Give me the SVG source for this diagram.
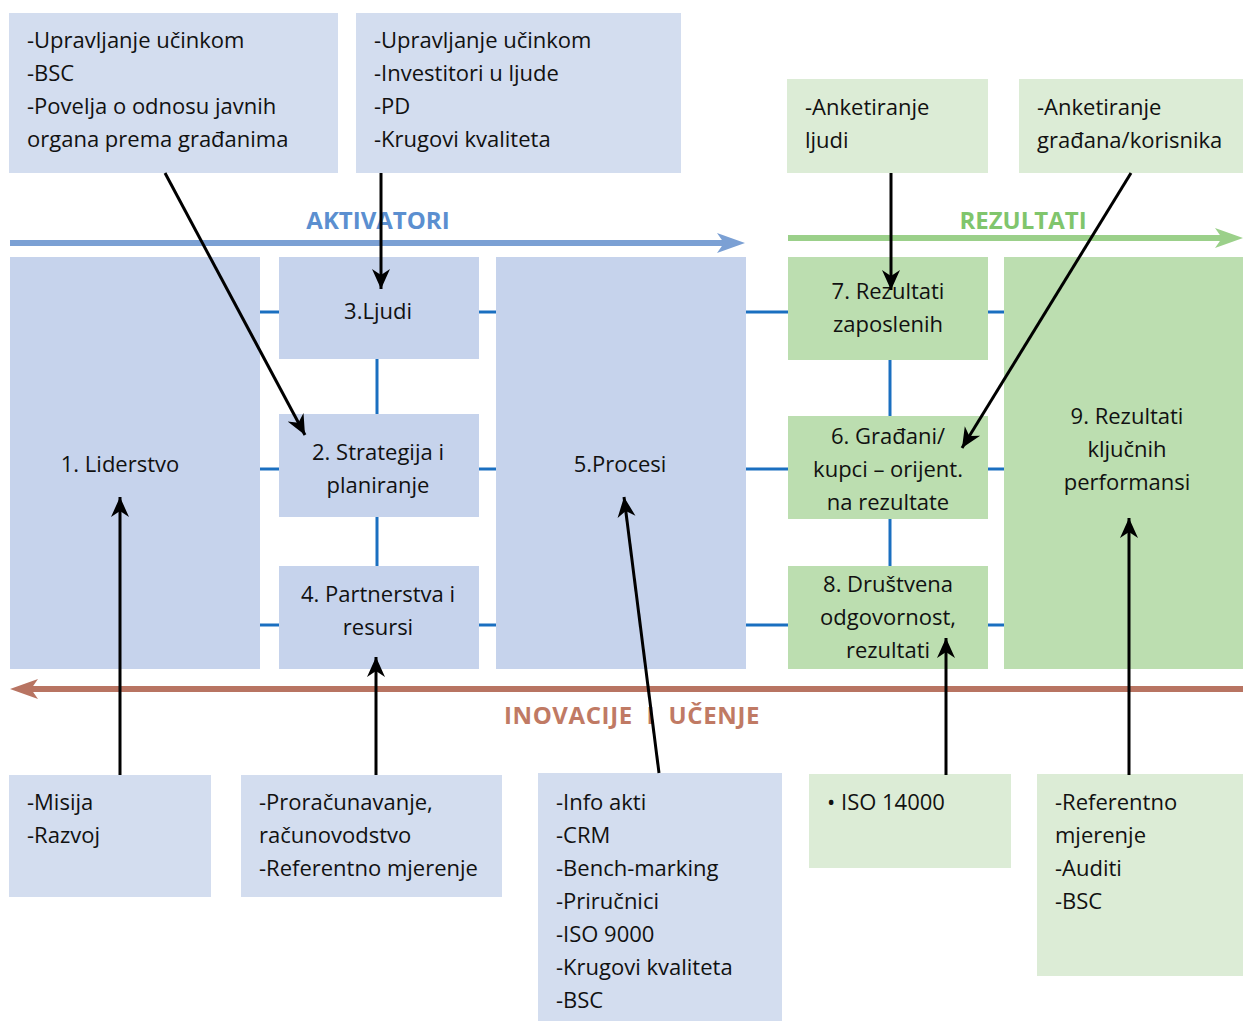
<svg xmlns="http://www.w3.org/2000/svg" width="1243" height="1021" viewBox="0 0 1243 1021">
<defs>
<style>
text{font-family:"Open Sans","Liberation Sans",sans-serif;font-size:22px;fill:#111}
.c{text-anchor:middle}
.lb{fill:#d3ddef}
.mb{fill:#c6d3ec}
.lg{fill:#dcecd6}
.mg{fill:#bcdeb0}
.bl{stroke:#1a6fc0;stroke-width:3;fill:none}
.ttl{font-weight:bold;font-size:24px}
</style>
<marker id="ah2" markerWidth="22" markerHeight="22" refX="20" refY="11" orient="auto" markerUnits="userSpaceOnUse">
<path d="M0,2 L20,11 L0,20 L6,11 Z" fill="#000"/>
</marker>
</defs>
<rect width="1243" height="1021" fill="#fff"/>

<g id="flow-arrows">
<line x1="10" y1="243" x2="725" y2="243" stroke="#7ba0d4" stroke-width="6"/>
<path d="M717,233 L745,243 L717,253 L724,243 Z" fill="#7ba0d4"/>
<line x1="788" y1="238" x2="1230" y2="238" stroke="#9bd08a" stroke-width="6"/>
<path d="M1215,228 L1243,238 L1215,248 L1222,238 Z" fill="#9bd08a"/>
<line x1="28" y1="689" x2="1243" y2="689" stroke="#b87462" stroke-width="6"/>
<path d="M38,679 L10,689 L38,699 L31,689 Z" fill="#b87462"/>
<text class="c ttl" x="378" y="229" style="fill:#5b8fd0">AKTIVATORI</text>
<text class="c ttl" x="1023" y="229" style="fill:#80c56c">REZULTATI</text>
<text class="c ttl" x="632" y="724" style="fill:#c07a64;letter-spacing:0.6px" xml:space="preserve">INOVACIJE  I  UČENJE</text>
</g>

<g id="grid-lines">
<line class="bl" x1="260" y1="312" x2="279" y2="312"/>
<line class="bl" x1="260" y1="469" x2="279" y2="469"/>
<line class="bl" x1="260" y1="625" x2="279" y2="625"/>
<line class="bl" x1="479" y1="312" x2="496" y2="312"/>
<line class="bl" x1="479" y1="469" x2="496" y2="469"/>
<line class="bl" x1="479" y1="625" x2="496" y2="625"/>
<line class="bl" x1="746" y1="312" x2="788" y2="312"/>
<line class="bl" x1="746" y1="469" x2="788" y2="469"/>
<line class="bl" x1="746" y1="625" x2="788" y2="625"/>
<line class="bl" x1="988" y1="312" x2="1004" y2="312"/>
<line class="bl" x1="988" y1="469" x2="1004" y2="469"/>
<line class="bl" x1="988" y1="625" x2="1004" y2="625"/>
<line class="bl" x1="377" y1="359" x2="377" y2="414"/>
<line class="bl" x1="377" y1="517" x2="377" y2="566"/>
<line class="bl" x1="890" y1="360" x2="890" y2="416"/>
<line class="bl" x1="890" y1="519" x2="890" y2="566"/>
</g>

<g id="n-top1"><rect class="lb" x="9" y="13" width="329" height="160"/>
<text x="27" y="48">-Upravljanje učinkom</text><text x="27" y="81">-BSC</text><text x="27" y="114">-Povelja o odnosu javnih</text><text x="27" y="147">organa prema građanima</text></g>
<g id="n-top2"><rect class="lb" x="356" y="13" width="325" height="160"/>
<text x="374" y="48">-Upravljanje učinkom</text><text x="374" y="81">-Investitori u ljude</text><text x="374" y="114">-PD</text><text x="374" y="147">-Krugovi kvaliteta</text></g>
<g id="n-top3"><rect class="lg" x="787" y="79" width="201" height="94"/>
<text x="805" y="115">-Anketiranje</text><text x="805" y="148">ljudi</text></g>
<g id="n-top4"><rect class="lg" x="1019" y="79" width="224" height="94"/>
<text x="1037" y="115">-Anketiranje</text><text x="1037" y="148">građana/korisnika</text></g>

<g id="n1"><rect class="mb" x="10" y="257" width="250" height="412"/><text class="c" x="120" y="472">1. Liderstvo</text></g>
<g id="n3"><rect class="mb" x="279" y="257" width="200" height="102"/><text class="c" x="378" y="319">3.Ljudi</text></g>
<g id="n2"><rect class="mb" x="279" y="414" width="200" height="103"/><text class="c" x="378" y="460">2. Strategija i</text><text class="c" x="378" y="493">planiranje</text></g>
<g id="n4"><rect class="mb" x="279" y="566" width="200" height="103"/><text class="c" x="378" y="602">4. Partnerstva i</text><text class="c" x="378" y="635">resursi</text></g>
<g id="n5"><rect class="mb" x="496" y="257" width="250" height="412"/><text class="c" x="620" y="472">5.Procesi</text></g>
<g id="n7"><rect class="mg" x="788" y="257" width="200" height="103"/><text class="c" x="888" y="299">7. Rezultati</text><text class="c" x="888" y="332">zaposlenih</text></g>
<g id="n6"><rect class="mg" x="788" y="416" width="200" height="103"/><text class="c" x="888" y="444">6. Građani/</text><text class="c" x="888" y="477">kupci – orijent.</text><text class="c" x="888" y="510">na rezultate</text></g>
<g id="n8"><rect class="mg" x="788" y="566" width="200" height="103"/><text class="c" x="888" y="592">8. Društvena</text><text class="c" x="888" y="625">odgovornost,</text><text class="c" x="888" y="658">rezultati</text></g>
<g id="n9"><rect class="mg" x="1004" y="257" width="239" height="412"/><text class="c" x="1127" y="424">9. Rezultati</text><text class="c" x="1127" y="457">ključnih</text><text class="c" x="1127" y="490">performansi</text></g>

<g id="n-b1"><rect class="lb" x="9" y="775" width="202" height="122"/><text x="27" y="810">-Misija</text><text x="27" y="843">-Razvoj</text></g>
<g id="n-b2"><rect class="lb" x="241" y="775" width="261" height="122"/><text x="259" y="810">-Proračunavanje,</text><text x="259" y="843">računovodstvo</text><text x="259" y="876">-Referentno mjerenje</text></g>
<g id="n-b3"><rect class="lb" x="538" y="773" width="244" height="248"/>
<text x="556" y="810">-Info akti</text><text x="556" y="843">-CRM</text><text x="556" y="876">-Bench-marking</text><text x="556" y="909">-Priručnici</text><text x="556" y="942">-ISO 9000</text><text x="556" y="975">-Krugovi kvaliteta</text><text x="556" y="1008">-BSC</text></g>
<g id="n-b4"><rect class="lg" x="809" y="774" width="202" height="94"/><text x="827" y="810">• ISO 14000</text></g>
<g id="n-b5"><rect class="lg" x="1037" y="774" width="206" height="202"/><text x="1055" y="810">-Referentno</text><text x="1055" y="843">mjerenje</text><text x="1055" y="876">-Auditi</text><text x="1055" y="909">-BSC</text></g>

<g id="connectors" stroke="#000" stroke-width="3" fill="none">
<line x1="165" y1="173" x2="305" y2="435" marker-end="url(#ah2)"/>
<line x1="381" y1="173" x2="381" y2="289" marker-end="url(#ah2)"/>
<line x1="891" y1="173" x2="891" y2="290" marker-end="url(#ah2)"/>
<line x1="1131" y1="173" x2="962" y2="448" marker-end="url(#ah2)"/>
<line x1="120" y1="775" x2="120" y2="497" marker-end="url(#ah2)"/>
<line x1="376" y1="775" x2="376" y2="657" marker-end="url(#ah2)"/>
<line x1="659" y1="773" x2="624" y2="497" marker-end="url(#ah2)"/>
<line x1="946" y1="775" x2="946" y2="638" marker-end="url(#ah2)"/>
<line x1="1129" y1="775" x2="1129" y2="518" marker-end="url(#ah2)"/>
</g>
</svg>
